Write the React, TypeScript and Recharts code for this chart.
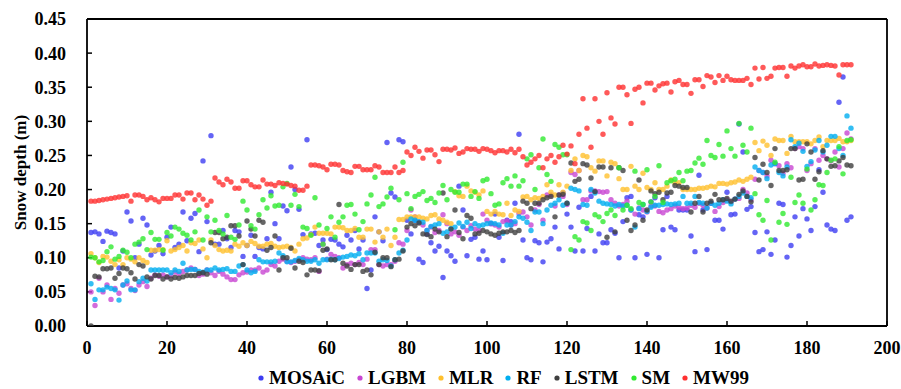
import { ScatterChart, Scatter, XAxis, YAxis, Legend, ReferenceLine } from "recharts";

const FONT = "'Times New Roman', 'Liberation Serif', serif";

// day index 1..191
const days = Array.from({ length: 191 }, (_, i) => i + 1);

const mosaic = [
  0.137, 0.138, 0.135, 0.124, 0.139, 0.137, 0.135, 0.085, 0.11, 0.167,
  0.154, 0.1, 0.12, 0.158, 0.148, 0.104, 0.11, 0.118, 0.106, 0.13,
  0.145, 0.115, 0.12, 0.167, 0.125, 0.158, 0.165, 0.109, 0.242, 0.153,
  0.279, 0.12, 0.12, 0.14, 0.128, 0.115, 0.14, 0.138, 0.102, 0.118,
  0.133, 0.102, 0.115, 0.113, 0.128, 0.196, 0.15, 0.128, 0.176, 0.169,
  0.233, 0.2, 0.171, 0.134, 0.273, 0.135, 0.136, 0.118, 0.126, 0.112,
  0.127, 0.126, 0.12, 0.116, 0.133, 0.126, 0.14, 0.113, 0.126, 0.055,
  0.082, 0.16, 0.138, 0.125, 0.269, 0.195, 0.189, 0.273, 0.27, 0.155,
  0.135, 0.155, 0.098, 0.093, 0.135, 0.122, 0.11, 0.117, 0.071, 0.11,
  0.103, 0.095, 0.205, 0.17, 0.103, 0.127, 0.13, 0.098, 0.11, 0.097,
  0.15, 0.164, 0.13, 0.096, 0.155, 0.153, 0.18, 0.281, 0.126, 0.1,
  0.097, 0.125, 0.122, 0.094, 0.123, 0.128, 0.145, 0.113, 0.195, 0.164,
  0.145, 0.11, 0.174, 0.11, 0.143, 0.19, 0.11, 0.135, 0.122, 0.122,
  0.141, 0.136, 0.1, 0.153, 0.188, 0.19, 0.1, 0.163, 0.16, 0.105,
  0.182, 0.188, 0.1, 0.141, 0.19, 0.145, 0.141, 0.17, 0.17, 0.17,
  0.132, 0.109, 0.221, 0.17, 0.112, 0.18, 0.155, 0.155, 0.142, 0.196,
  0.163, 0.164, 0.296, 0.255, 0.171, 0.175, 0.137, 0.109, 0.112, 0.138,
  0.105, 0.126, 0.18, 0.178, 0.101, 0.118, 0.16, 0.132, 0.172, 0.157,
  0.14, 0.175, 0.229, 0.196, 0.148, 0.142, 0.14, 0.328, 0.365, 0.155, 0.16,
];

const lgbm = [
  0.05, 0.03, 0.07, 0.05, 0.06, 0.039, 0.055, 0.048, 0.06, 0.062,
  0.055, 0.052, 0.06, 0.065, 0.058, 0.07, 0.075, 0.073, 0.075, 0.072,
  0.074, 0.079, 0.076, 0.08, 0.082, 0.085, 0.083, 0.074, 0.076, 0.082,
  0.078, 0.074, 0.08, 0.076, 0.072, 0.068, 0.068, 0.075, 0.078, 0.079,
  0.082, 0.082, 0.085, 0.079, 0.082, 0.09, 0.088, 0.095, 0.098, 0.095,
  0.093, 0.095, 0.097, 0.1, 0.098, 0.097, 0.1, 0.08, 0.12, 0.098,
  0.105, 0.102, 0.1, 0.085, 0.09, 0.092, 0.09, 0.093, 0.09, 0.098,
  0.112, 0.112, 0.09, 0.088, 0.09, 0.09, 0.095, 0.122, 0.12, 0.14,
  0.17, 0.16, 0.152, 0.148, 0.14, 0.145, 0.137, 0.14, 0.163, 0.15,
  0.135, 0.138, 0.133, 0.145, 0.14, 0.147, 0.142, 0.14, 0.164, 0.155,
  0.15, 0.148, 0.145, 0.153, 0.154, 0.148, 0.15, 0.165, 0.167, 0.16,
  0.148, 0.17, 0.178, 0.155, 0.192, 0.192, 0.176, 0.192, 0.19, 0.178,
  0.225, 0.222, 0.228, 0.185, 0.185, 0.198, 0.198, 0.197, 0.196, 0.197,
  0.185, 0.18, 0.176, 0.178, 0.183, 0.17, 0.164, 0.173, 0.17, 0.167,
  0.176, 0.176, 0.168, 0.166, 0.17, 0.172, 0.176, 0.174, 0.172, 0.173,
  0.177, 0.174, 0.18, 0.177, 0.173, 0.18, 0.168, 0.175, 0.181, 0.185,
  0.182, 0.186, 0.187, 0.2, 0.195, 0.185, 0.215, 0.228, 0.225, 0.22,
  0.243, 0.238, 0.235, 0.224, 0.238, 0.232, 0.26, 0.263, 0.26, 0.228,
  0.238, 0.26, 0.243, 0.25, 0.245, 0.242, 0.255, 0.233, 0.26, 0.283, 0.274,
];

const mlr = [
  0.106, 0.1, 0.093, 0.102, 0.101, 0.095, 0.09, 0.097, 0.09, 0.1,
  0.098, 0.094, 0.1, 0.096, 0.093, 0.111, 0.111, 0.112, 0.112, 0.125,
  0.11, 0.112, 0.115, 0.118, 0.11, 0.122, 0.121, 0.126, 0.113, 0.1,
  0.126, 0.118, 0.112, 0.11, 0.111, 0.11, 0.12, 0.117, 0.122, 0.118,
  0.124, 0.121, 0.117, 0.117, 0.12, 0.121, 0.117, 0.115, 0.116, 0.117,
  0.115, 0.11, 0.12, 0.128, 0.129, 0.134, 0.145, 0.136, 0.136, 0.136,
  0.135, 0.145, 0.145, 0.144, 0.14, 0.14, 0.143, 0.13, 0.13, 0.142,
  0.142, 0.123, 0.138, 0.13, 0.142, 0.118, 0.13, 0.156, 0.156, 0.16,
  0.16, 0.16, 0.16, 0.158, 0.157, 0.162, 0.163, 0.157, 0.155, 0.152,
  0.15, 0.197, 0.191, 0.19, 0.205, 0.198, 0.196, 0.192, 0.198, 0.168,
  0.164, 0.168, 0.164, 0.163, 0.18, 0.162, 0.17, 0.168, 0.189, 0.19,
  0.185, 0.188, 0.187, 0.19, 0.207, 0.196, 0.192, 0.207, 0.196, 0.205,
  0.228, 0.245, 0.228, 0.25, 0.248, 0.232, 0.227, 0.242, 0.242, 0.22,
  0.24, 0.238, 0.216, 0.2, 0.2, 0.234, 0.205, 0.2, 0.224, 0.203,
  0.2, 0.21, 0.2, 0.2, 0.205, 0.214, 0.21, 0.21, 0.2, 0.2,
  0.2, 0.2, 0.202, 0.202, 0.203, 0.205, 0.204, 0.209, 0.209, 0.208,
  0.21, 0.211, 0.214, 0.212, 0.215, 0.218, 0.269, 0.257, 0.271, 0.265,
  0.25, 0.274, 0.272, 0.272, 0.253, 0.278, 0.27, 0.27, 0.27, 0.27,
  0.267, 0.272, 0.277, 0.263, 0.272, 0.272, 0.272, 0.275, 0.27, 0.27, 0.272,
];

const rf = [
  0.062, 0.039, 0.053, 0.053, 0.057, 0.055, 0.053, 0.038, 0.06, 0.066,
  0.053, 0.053, 0.065, 0.07, 0.066, 0.082, 0.082, 0.082, 0.082, 0.082,
  0.078, 0.082, 0.08, 0.092, 0.082, 0.083, 0.083, 0.08, 0.079, 0.082,
  0.082, 0.085, 0.082, 0.083, 0.084, 0.08, 0.08, 0.088, 0.09, 0.082,
  0.078, 0.08, 0.097, 0.094, 0.094, 0.094, 0.095, 0.107, 0.103, 0.094,
  0.094, 0.096, 0.099, 0.097, 0.095, 0.095, 0.097, 0.092, 0.097, 0.097,
  0.098, 0.097, 0.099, 0.101, 0.102, 0.104, 0.103, 0.106, 0.097, 0.107,
  0.107, 0.107, 0.095, 0.097, 0.096, 0.088, 0.097, 0.107, 0.111, 0.126,
  0.157, 0.155, 0.153, 0.152, 0.14, 0.146, 0.148, 0.15, 0.136, 0.138,
  0.143, 0.145, 0.151, 0.146, 0.152, 0.143, 0.15, 0.147, 0.148, 0.15,
  0.151, 0.15, 0.148, 0.136, 0.148, 0.148, 0.153, 0.16, 0.158, 0.152,
  0.14, 0.167, 0.167, 0.15, 0.17, 0.177, 0.18, 0.185, 0.177, 0.18,
  0.202, 0.2, 0.198, 0.178, 0.177, 0.2, 0.195, 0.183, 0.18, 0.179,
  0.178, 0.176, 0.178, 0.176, 0.177, 0.17, 0.145, 0.172, 0.178, 0.168,
  0.174, 0.177, 0.177, 0.178, 0.179, 0.178, 0.179, 0.18, 0.19, 0.18,
  0.18, 0.19, 0.181, 0.18, 0.173, 0.18, 0.177, 0.18, 0.185, 0.183,
  0.179, 0.186, 0.19, 0.195, 0.19, 0.188, 0.233, 0.228, 0.225, 0.216,
  0.236, 0.238, 0.225, 0.22, 0.233, 0.273, 0.263, 0.268, 0.256, 0.234,
  0.241, 0.258, 0.272, 0.255, 0.265, 0.278, 0.278, 0.26, 0.25, 0.308, 0.29,
];

const lstm = [
  0, 0.073, 0.072, 0.084, 0.084, 0.085, 0.07, 0.077, 0.085, 0.084,
  0.078, 0.069, 0.09, 0.088, 0.072, 0.069, 0.074, 0.074, 0.069, 0.072,
  0.069, 0.071, 0.07, 0.072, 0.074, 0.074, 0.074, 0.077, 0.078, 0.076,
  0.122, 0.137, 0.137, 0.128, 0.13, 0.147, 0.147, 0.132, 0.09, 0.154,
  0.142, 0.132, 0.155, 0.152, 0.111, 0.115, 0.132, 0.082, 0.1, 0.1,
  0.114, 0.085, 0.095, 0.093, 0.075, 0.082, 0.082, 0.081, 0.111, 0.113,
  0.097, 0.097, 0.178, 0.092, 0.088, 0.083, 0.09, 0.09, 0.08, 0.082,
  0.075, 0.108, 0.09, 0.1, 0.1, 0.087, 0.097, 0.098, 0.11, 0.145,
  0.15, 0.147, 0.151, 0.135, 0.134, 0.131, 0.142, 0.138, 0.195, 0.131,
  0.142, 0.17, 0.137, 0.128, 0.162, 0.158, 0.135, 0.136, 0.14, 0.138,
  0.135, 0.133, 0.136, 0.138, 0.138, 0.14, 0.137, 0.14, 0.183, 0.18,
  0.172, 0.18, 0.18, 0.185, 0.188, 0.19, 0.16, 0.192, 0.193, 0.18,
  0.239, 0.212, 0.215, 0.238, 0.236, 0.217, 0.197, 0.233, 0.233, 0.13,
  0.232, 0.138, 0.232, 0.228, 0.155, 0.14, 0.148, 0.214, 0.155, 0.17,
  0.198, 0.194, 0.196, 0.185, 0.195, 0.196, 0.206, 0.205, 0.203, 0.203,
  0.167, 0.18, 0.19, 0.167, 0.18, 0.183, 0.193, 0.185, 0.185, 0.187,
  0.183, 0.186, 0.193, 0.198, 0.19, 0.182, 0.247, 0.214, 0.237, 0.225,
  0.206, 0.26, 0.228, 0.228, 0.229, 0.26, 0.26, 0.214, 0.215, 0.267,
  0.255, 0.215, 0.226, 0.257, 0.245, 0.234, 0.235, 0.242, 0.247, 0.236, 0.235,
];

const sm = [
  0.101, 0.1, 0.094, 0.096, 0.109, 0.116, 0.098, 0.102, 0.111, 0.108,
  0.1, 0.12, 0.123, 0.128, 0.112, 0.137, 0.127, 0.127, 0.111, 0.137,
  0.132, 0.145, 0.142, 0.136, 0.133, 0.126, 0.138, 0.17, 0.126, 0.16,
  0.138, 0.155, 0.14, 0.135, 0.162, 0.13, 0.127, 0.148, 0.183, 0.17,
  0.147, 0.142, 0.163, 0.185, 0.173, 0.191, 0.176, 0.177, 0.204, 0.209,
  0.177, 0.193, 0.175, 0.145, 0.143, 0.133, 0.188, 0.148, 0.12, 0.143,
  0.16, 0.13, 0.152, 0.16, 0.177, 0.178, 0.164, 0.141, 0.153, 0.179,
  0.192, 0.218, 0.175, 0.179, 0.189, 0.202, 0.141, 0.185, 0.24, 0.194,
  0.172, 0.19, 0.193, 0.197, 0.184, 0.187, 0.181, 0.195, 0.206, 0.185,
  0.2, 0.196, 0.196, 0.208, 0.208, 0.19, 0.197, 0.187, 0.213, 0.215,
  0.194, 0.177, 0.179, 0.21, 0.216, 0.205, 0.22, 0.205, 0.213, 0.245,
  0.251, 0.2, 0.232, 0.274, 0.222, 0.212, 0.266, 0.262, 0.251, 0.251,
  0.112, 0.131, 0.126, 0.153, 0.151, 0.14, 0.163, 0.16, 0.153, 0.165,
  0.17, 0.162, 0.232, 0.17, 0.177, 0.172, 0.227, 0.181, 0.178, 0.229,
  0.182, 0.19, 0.235, 0.181, 0.21, 0.213, 0.215, 0.225, 0.213, 0.227,
  0.228, 0.239, 0.246, 0.237, 0.272, 0.25, 0.247, 0.266, 0.249, 0.286,
  0.26, 0.249, 0.297, 0.265, 0.255, 0.29, 0.194, 0.163, 0.155, 0.184,
  0.126, 0.24, 0.152, 0.165, 0.149, 0.218, 0.181, 0.192, 0.18, 0.23,
  0.17, 0.185, 0.207, 0.206, 0.225, 0.243, 0.245, 0.263, 0.223, 0.272, 0.273,
];

const mw99 = [
  0.183, 0.183, 0.184, 0.185, 0.186, 0.187, 0.188, 0.189, 0.19, 0.191,
  0.183, 0.192, 0.192, 0.19, 0.185, 0.188, 0.185, 0.182, 0.187, 0.187,
  0.187, 0.192, 0.192, 0.186, 0.195, 0.195, 0.185, 0.192, 0.186, 0.177,
  0.183, 0.217, 0.211, 0.207, 0.215, 0.211, 0.202, 0.202, 0.213, 0.213,
  0.207, 0.204, 0.204, 0.214, 0.208, 0.208, 0.206, 0.21, 0.209, 0.208,
  0.206, 0.205, 0.199, 0.199, 0.205, 0.236, 0.236, 0.235, 0.233, 0.229,
  0.237, 0.237, 0.236, 0.228, 0.226, 0.225, 0.234, 0.234, 0.229, 0.229,
  0.229, 0.235, 0.233, 0.225, 0.225, 0.225, 0.233, 0.225, 0.228, 0.255,
  0.25, 0.262, 0.256, 0.246, 0.258, 0.258, 0.251, 0.241, 0.259, 0.259,
  0.258, 0.261, 0.253, 0.255, 0.26, 0.259, 0.259, 0.256, 0.26, 0.259,
  0.257, 0.254, 0.257, 0.257, 0.255, 0.259, 0.254, 0.259, 0.248, 0.236,
  0.24, 0.245, 0.25, 0.232, 0.245, 0.25, 0.24, 0.248, 0.265, 0.252,
  0.264, 0.238, 0.281, 0.333, 0.29, 0.262, 0.333, 0.3, 0.281, 0.342,
  0.305, 0.296, 0.35, 0.35, 0.339, 0.297, 0.347, 0.35, 0.327, 0.356,
  0.356, 0.346, 0.352, 0.355, 0.356, 0.343, 0.358, 0.36, 0.354, 0.354,
  0.341, 0.361, 0.361, 0.351, 0.367, 0.365, 0.357, 0.367, 0.36, 0.366,
  0.361, 0.36, 0.36, 0.36, 0.363, 0.354, 0.378, 0.362, 0.379, 0.363,
  0.366, 0.378, 0.379, 0.379, 0.366, 0.381, 0.378, 0.381, 0.383, 0.38,
  0.38, 0.384, 0.381, 0.382, 0.383, 0.382, 0.381, 0.368, 0.383, 0.383, 0.383,
];

const xTicks = [0, 20, 40, 60, 80, 100, 120, 140, 160, 180, 200];
const yTicks = [0, 0.05, 0.1, 0.15, 0.2, 0.25, 0.3, 0.35, 0.4, 0.45];

const series = [
  { name: "MOSAiC", color: "#3d3df2", values: mosaic },
  { name: "LGBM", color: "#c846d2", values: lgbm },
  { name: "MLR", color: "#ffc02e", values: mlr },
  { name: "RF", color: "#00aef0", values: rf },
  { name: "LSTM", color: "#3f3f3f", values: lstm },
  { name: "SM", color: "#30ea30", values: sm },
  { name: "MW99", color: "#ff3030", values: mw99 },
];

const toPoints = (vals: number[]) => days.map((d, i) => ({ x: d, y: vals[i] }));

const dot = (color: string) => (p: any) =>
  <circle cx={p.cx} cy={p.cy} r={2.7} fill={color} fillOpacity={0.8} />;

const renderLegend = () => (
  <div
    style={{
      display: "flex",
      justifyContent: "center",
      alignItems: "center",
      height: 22,
      lineHeight: "22px",
      fontFamily: FONT,
      fontWeight: "bold",
      fontSize: 19,
      color: "#000",
    }}
  >
    {series.map((s, i) => (
      <span key={s.name} style={{ display: "inline-flex", alignItems: "center", marginLeft: i ? 12 : 0 }}>
        <svg width={6} height={6} style={{ marginRight: 5 }}>
          <circle cx={3} cy={3} r={2.6} fill={s.color} />
        </svg>
        {s.name}
      </span>
    ))}
  </div>
);

const tickStyle = { fontFamily: FONT, fontWeight: "bold", fontSize: 18, fill: "#000" };

export default function App() {
  return (
    <div style={{ width: 901, height: 389, background: "#fff" }}>
      <style>{"body{margin:0}"}</style>
      <ScatterChart width={901} height={389} margin={{ top: 19, right: 14, bottom: 0, left: 0 }}>
        <XAxis
          type="number"
          dataKey="x"
          domain={[0, 200]}
          ticks={xTicks}
          interval={0}
          height={41}
          tickSize={-5}
          tickMargin={20}
          tick={tickStyle}
          axisLine={{ stroke: "#000", strokeWidth: 1.8 }}
          tickLine={{ stroke: "#000", strokeWidth: 1.5 }}
        />
        <YAxis
          type="number"
          dataKey="y"
          domain={[0, 0.45]}
          ticks={yTicks}
          interval={0}
          allowDataOverflow
          width={87}
          tickSize={-5}
          tickMargin={26}
          tick={tickStyle}
          tickFormatter={(v: number) => v.toFixed(2)}
          axisLine={{ stroke: "#000", strokeWidth: 1.8 }}
          tickLine={{ stroke: "#000", strokeWidth: 1.5 }}
          label={{
            value: "Snow depth (m)",
            angle: -90,
            position: "insideLeft",
            offset: 20,
            style: { textAnchor: "middle", fontFamily: FONT, fontWeight: "bold", fontSize: 17, fill: "#000" },
          }}
        />
        <ReferenceLine y={0.45} stroke="#000" strokeWidth={1.8} />
        <ReferenceLine x={200} stroke="#000" strokeWidth={1.8} />
        {series.map((s) => (
          <Scatter
            key={s.name}
            name={s.name}
            data={toPoints(s.values)}
            fill={s.color}
            shape={dot(s.color)}
            isAnimationActive={false}
          />
        ))}
        <Legend verticalAlign="bottom" content={renderLegend} wrapperStyle={{ left: 53, width: 901 }} />
      </ScatterChart>
    </div>
  );
}
